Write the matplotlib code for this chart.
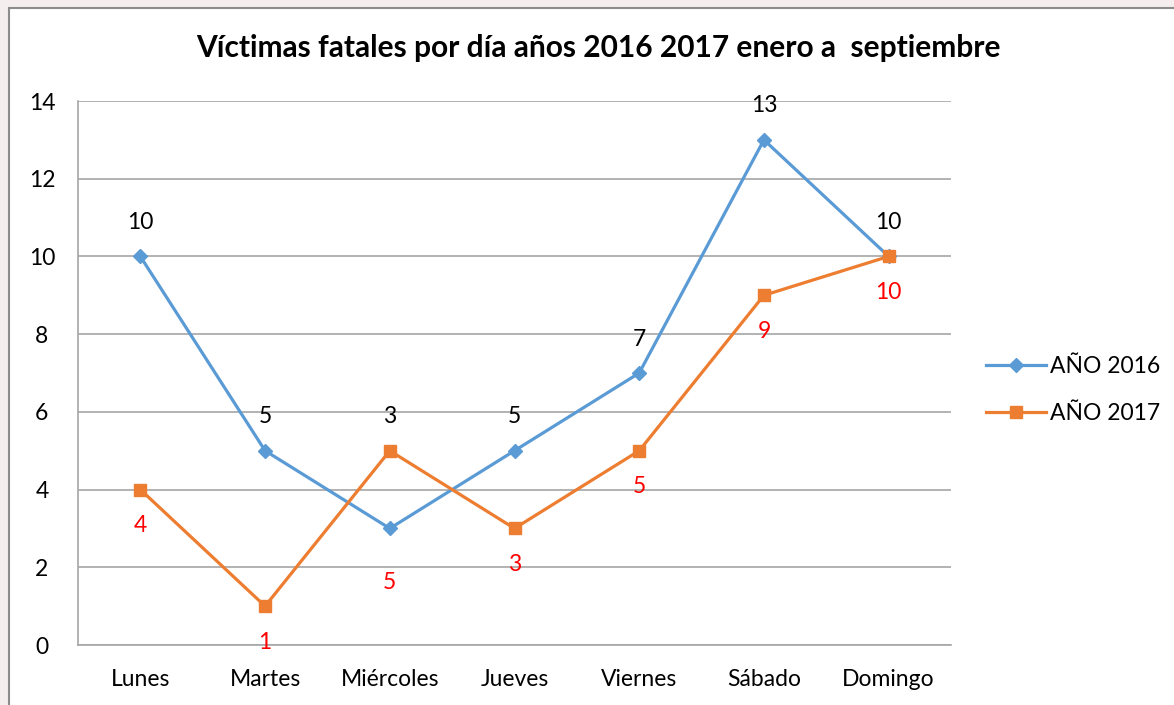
import matplotlib
matplotlib.use('Agg')
import matplotlib.pyplot as plt
from matplotlib.patches import Rectangle

plt.rcParams['font.family'] = ['Lato', 'DejaVu Sans']

dias = ["Lunes", "Martes", "Miércoles", "Jueves", "Viernes", "Sábado", "Domingo"]
anio_2016 = [10, 5, 3, 5, 7, 13, 10]
anio_2017 = [4, 1, 5, 3, 5, 9, 10]
y_ticks = [0, 2, 4, 6, 8, 10, 12, 14]

azul = "#5B9BD5"
naranja = "#ED7D31"

fig = plt.figure(figsize=(11.74, 7.05), dpi=100)
fig.patch.set_facecolor("#F4EEEE")

# white chart area with grey border (only top/left visible in the original)
fig.patches.append(Rectangle((9 / 1174, -0.1), 1.2, 1 - 8 / 705 + 0.1,
                             transform=fig.transFigure, facecolor="white",
                             edgecolor="#8C8C8C", linewidth=1.5, zorder=-5))

ax = fig.add_axes([78 / 1174, 60 / 705, 873 / 1174, 544 / 705])
ax.patch.set_alpha(0)
x = list(range(len(dias)))

ax.plot(x, anio_2016, color=azul, lw=2.3, marker="D", markersize=7.5, label="AÑO 2016", zorder=3)
ax.plot(x, anio_2017, color=naranja, lw=2.3, marker="s", markersize=8.5, label="AÑO 2017", zorder=3)

# data labels: 2016 above the higher point, 2017 below the lower one
for i in x:
    alto = max(anio_2016[i], anio_2017[i])
    bajo = min(anio_2016[i], anio_2017[i])
    extra = 18 if anio_2017[i] > anio_2016[i] else 0
    ax.annotate(str(anio_2016[i]), (i, alto), xytext=(0, 34), textcoords="offset pixels",
                ha="center", va="center", fontsize=16.5, color="black")
    ax.annotate(str(anio_2017[i]), (i, bajo), xytext=(0, -36 - extra), textcoords="offset pixels",
                ha="center", va="center", fontsize=16.5, color="red")

ax.set_xlim(-0.5, len(dias) - 0.5)
ax.set_ylim(0, 14)
ax.set_yticks(y_ticks)
ax.set_xticks(x)
ax.set_xticklabels(dias)
ax.tick_params(axis="both", length=0, labelsize=16.5)
ax.tick_params(axis="y", pad=26)
ax.tick_params(axis="x", pad=17)
for lbl in ax.get_yticklabels():
    lbl.set_horizontalalignment("center")
ax.grid(axis="y", color="#A6A6A6", lw=1.2)
ax.set_axisbelow(True)
for s in ["top", "right"]:
    ax.spines[s].set_visible(False)
for s in ["left", "bottom"]:
    ax.spines[s].set_color("#A6A6A6")
    ax.spines[s].set_linewidth(1.2)

fig.text(598 / 1174, 1 - 48 / 705, "Víctimas fatales por día años 2016 2017 enero a  septiembre",
         ha="center", va="center", fontsize=21.5, fontweight="bold")

fig.legend(loc="center left", bbox_to_anchor=(977 / 1174, 1 - 390 / 705), frameon=False,
           fontsize=16.5, handlelength=2.6, handletextpad=0.2, labelspacing=1.15, borderaxespad=0)

fig.savefig("out.png", dpi=100)
